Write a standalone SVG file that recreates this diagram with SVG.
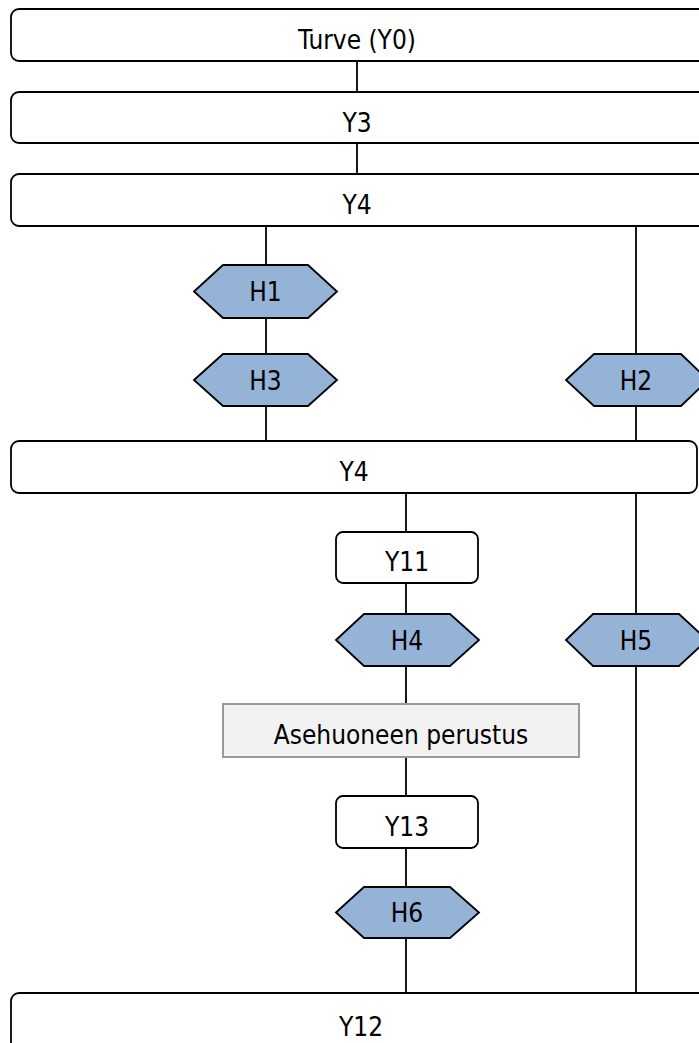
<svg xmlns="http://www.w3.org/2000/svg" width="699" height="1043" viewBox="0 0 699 1043">
<style>
.box{fill:#fff;stroke:#000;stroke-width:1.8}
.hex{fill:#95b3d7;stroke:#000;stroke-width:1.8}
.grey{fill:#f2f2f2;stroke:#9a9a9a;stroke-width:2}
.ln{stroke:#000;stroke-width:1.8;fill:none}
text{font-family:"DejaVu Sans Condensed","DejaVu Sans",sans-serif;font-size:26px;fill:#000;text-anchor:middle}
</style>
<rect width="699" height="1043" fill="#fff"/>
<g id="connectors">
<path class="ln" d="M357 61V92M357 143V174M266 226V265M266 318V354M266 406V441M636 226V354M636 406V441M406 493V532M406 583V614M406 666V704M406 757V796M406 848V887M406 938V993M636 493V614M636 665V993"/>
</g>
<g id="n_y0"><rect class="box" x="11" y="9" width="700" height="52" rx="8"/><text x="357" y="49">Turve (Y0)</text></g>
<g id="n_y3"><rect class="box" x="11" y="92" width="700" height="51" rx="8"/><text x="357" y="132">Y3</text></g>
<g id="n_y4a"><rect class="box" x="11" y="174" width="700" height="52" rx="8"/><text x="357" y="214">Y4</text></g>
<g id="n_h1"><polygon class="hex" points="194,291.5 223,265 308,265 337,291.5 308,318 223,318"/><text x="265.5" y="301">H1</text></g>
<g id="n_h3"><polygon class="hex" points="194,380 223,354 308,354 337,380 308,406 223,406"/><text x="265.5" y="390">H3</text></g>
<g id="n_h2"><polygon class="hex" points="566,380 594,354 681,354 708,380 681,406 594,406"/><text x="636" y="390">H2</text></g>
<g id="n_y4b"><rect class="box" x="11" y="441" width="686" height="52" rx="8"/><text x="354" y="481">Y4</text></g>
<g id="n_y11"><rect class="box" x="336" y="532" width="142" height="51" rx="7"/><text x="407" y="571">Y11</text></g>
<g id="n_h4"><polygon class="hex" points="336,640 364,614 450,614 479,640 450,666 364,666"/><text x="407" y="650">H4</text></g>
<g id="n_h5"><polygon class="hex" points="566,640 593,614 679,614 707,640 679,666 593,666"/><text x="636" y="650">H5</text></g>
<g id="n_ase"><rect class="grey" x="223" y="704" width="356" height="53"/><text x="401" y="744">Asehuoneen perustus</text></g>
<g id="n_y13"><rect class="box" x="336" y="796" width="142" height="52" rx="7"/><text x="407" y="836">Y13</text></g>
<g id="n_h6"><polygon class="hex" points="336,912.5 364,887 450,887 479,912.5 450,938 364,938"/><text x="407" y="922">H6</text></g>
<g id="n_y12"><rect class="box" x="11" y="993" width="700" height="70" rx="8"/><text x="361" y="1036">Y12</text></g>
</svg>
